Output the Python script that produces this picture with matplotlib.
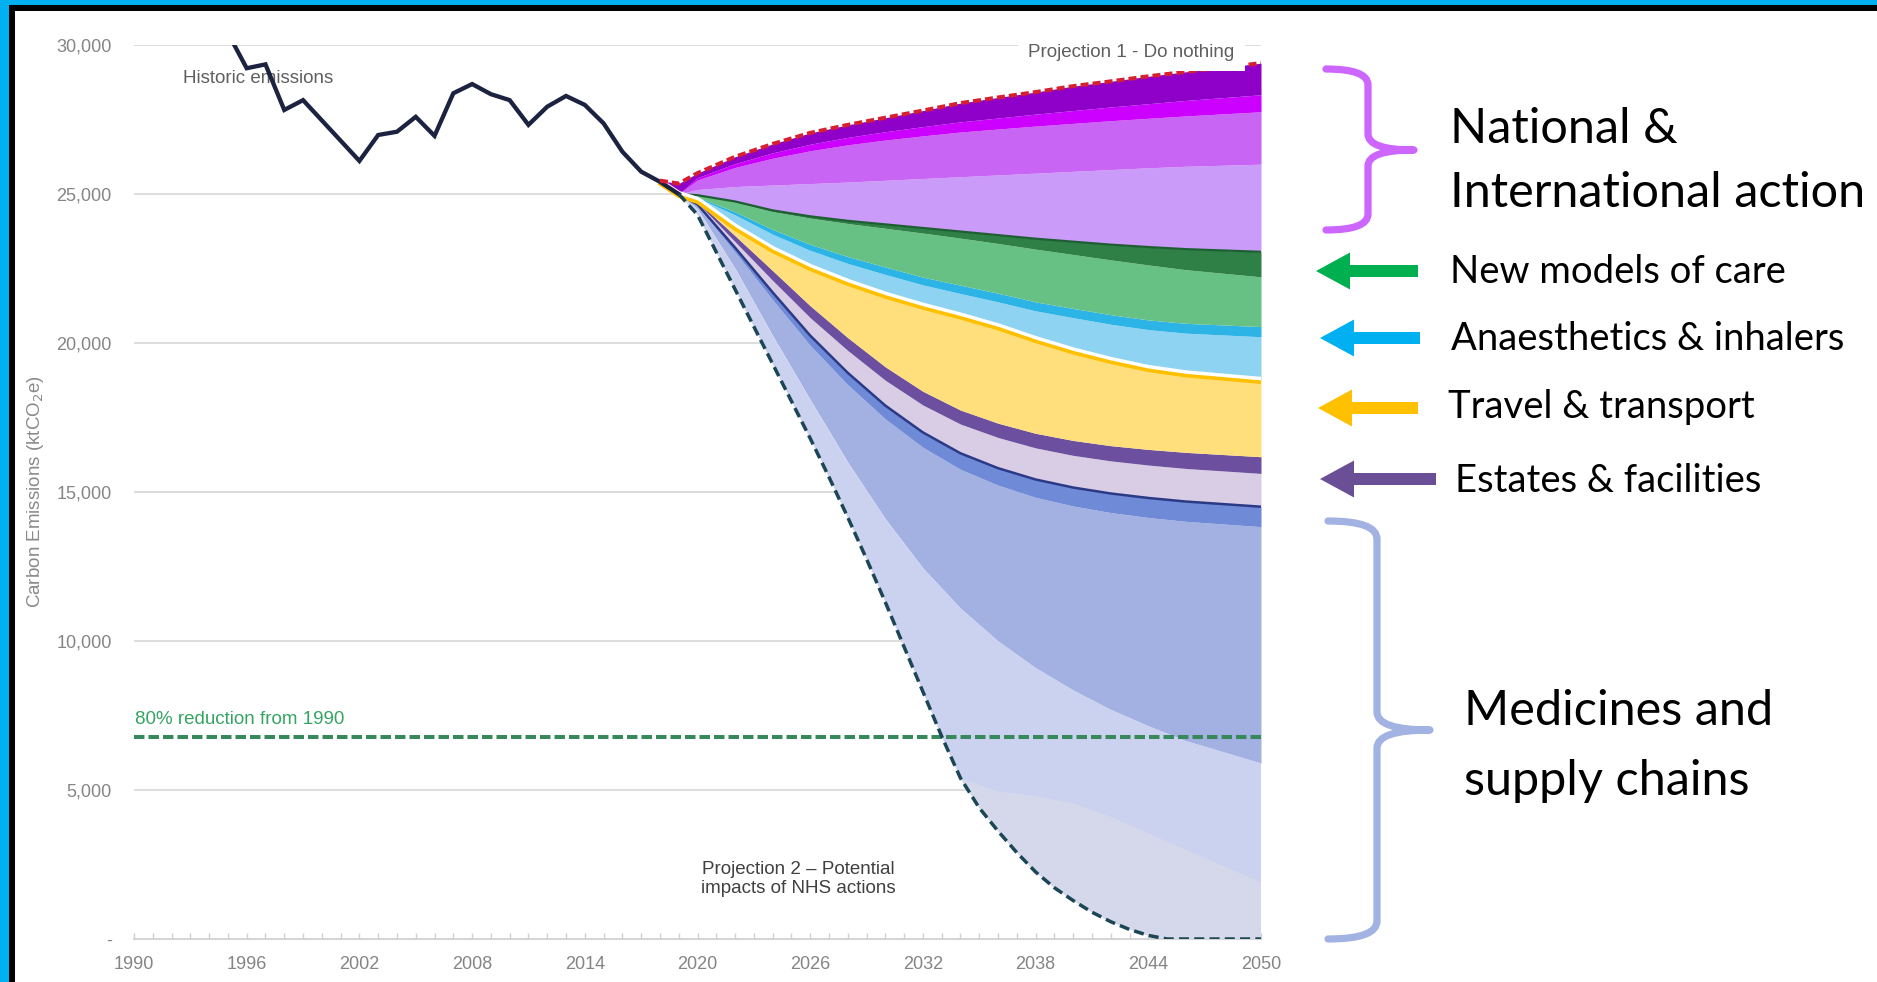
import matplotlib
matplotlib.use("Agg")
import matplotlib.pyplot as plt
from matplotlib.path import Path
from matplotlib.patches import PathPatch, FancyArrow, Rectangle
from matplotlib.ticker import MultipleLocator
import matplotlib.transforms as mtransforms

plt.rcParams['font.family'] = ['Liberation Sans', 'DejaVu Sans']

# ---------------- data ----------------
hist_years = list(range(1990, 2020))
hist_values = [33850, 33200, 32500, 31800, 31100, 30400, 29220, 29350, 27820, 28150,
               27470, 26790, 26110, 26980, 27090, 27590, 26950, 28380, 28690, 28350,
               28150, 27320, 27930, 28290, 27990, 27370, 26420, 25750, 25410, 25000]

proj_years = [2018, 2019, 2020, 2022, 2024, 2026, 2028, 2030, 2032, 2034, 2036, 2038, 2040, 2042, 2044, 2046, 2050]

# Projection 1 - do nothing (top of stack)
do_nothing      = [25450, 25350, 25700, 26250, 26680, 27050, 27320, 27560, 27800, 28050, 28240, 28420, 28620, 28780, 28950, 29100, 29390]
# cumulative level of each band's lower edge (top to bottom)
lvl_natintl_1   = [25413, 25000, 25550, 26020, 26380, 26670, 26900, 27090, 27260, 27420, 27550, 27680, 27800, 27920, 28030, 28140, 28330]
lvl_natintl_2   = [25413, 25000, 25470, 25890, 26200, 26450, 26650, 26810, 26950, 27080, 27180, 27280, 27370, 27460, 27540, 27620, 27760]
lvl_natintl_3   = [25413, 25000, 25150, 25250, 25300, 25350, 25400, 25460, 25520, 25580, 25640, 25700, 25760, 25820, 25880, 25930, 26000]
lvl_natintl_4   = [25413, 25000, 24960, 24750, 24450, 24250, 24100, 23980, 23860, 23740, 23620, 23500, 23400, 23300, 23220, 23150, 23060]
lvl_care_1      = [25413, 25000, 24955, 24730, 24410, 24190, 24010, 23850, 23690, 23520, 23340, 23150, 22970, 22790, 22620, 22460, 22220]
lvl_care_2      = [25413, 25000, 24900, 24400, 23810, 23310, 22900, 22550, 22210, 21940, 21670, 21380, 21160, 20950, 20775, 20660, 20550]
lvl_anaesth_1   = [25413, 25000, 24870, 24300, 23650, 23110, 22670, 22300, 21950, 21660, 21380, 21080, 20850, 20630, 20450, 20330, 20210]
lvl_anaesth_2   = [25413, 25000, 24800, 23900, 23150, 22550, 22050, 21620, 21250, 20920, 20560, 20130, 19750, 19430, 19160, 18980, 18760]
lvl_travel      = [25413, 25000, 24750, 23600, 22430, 21250, 20180, 19200, 18380, 17750, 17310, 16970, 16730, 16555, 16430, 16330, 16184]
lvl_estates_1   = [25413, 25000, 24710, 23400, 22100, 20850, 19750, 18750, 17920, 17280, 16830, 16480, 16230, 16045, 15905, 15790, 15624]
lvl_estates_2   = [25413, 25000, 24650, 23200, 21700, 20250, 19000, 17900, 17000, 16300, 15800, 15420, 15150, 14950, 14800, 14680, 14507]
lvl_supply_1    = [25413, 25000, 24600, 23050, 21450, 19920, 18600, 17450, 16500, 15760, 15230, 14820, 14530, 14310, 14145, 14015, 13837]
lvl_supply_2    = [25413, 25000, 24500, 22500, 20250, 18100, 16000, 14100, 12450, 11100, 10000, 9100, 8350, 7700, 7150, 6650, 5900]

# lowest wedge, only present once projection 2 flattens out
pale_years      = [2034, 2036, 2038, 2040, 2042, 2044, 2046, 2050]
lvl_supply_3    = [5400, 4950, 4800, 4550, 4100, 3550, 3000, 1900]

# Projection 2 - potential impacts of NHS actions (bottom of stack)
nhs_years   = list(range(2019, 2051))
nhs_actions = [25000, 24300, 23050, 21800, 20550, 19300, 18050, 16800, 15500, 14150,
               12750, 11300, 9800, 8300, 6800, 5400, 4400, 3620, 2900, 2250,
               1720, 1290, 900, 580, 320, 120, 0, 0, 0, 0, 0, 0]

y_ticks = [0, 5000, 10000, 15000, 20000, 25000, 30000]
y_tick_labels = ['-', '5,000', '10,000', '15,000', '20,000', '25,000', '30,000']
x_ticks = [1990, 1996, 2002, 2008, 2014, 2020, 2026, 2032, 2038, 2044, 2050]
x_tick_labels = [str(v) for v in x_ticks]

side_labels = ['New models of care', 'Anaesthetics & inhalers', 'Travel & transport', 'Estates & facilities']
side_colors = ['#00B050', '#00B0F0', '#FFC000', '#6A4F96']

# ---------------- figure ----------------
W, H = 1877, 982
fig = plt.figure(figsize=(W / 100, H / 100), dpi=100)
fig.patch.set_facecolor('white')

x0px, x1px, y0px, y1px = 134, 1261, 939, 45
ax = fig.add_axes([x0px / W, 1 - y0px / H, (x1px - x0px) / W, (y0px - y1px) / H])
ax.set_xlim(1990, 2050)
ax.set_ylim(0, 30000)

# bands on the common projection grid, bottom to top
levels = [lvl_supply_2, lvl_supply_1, lvl_estates_2, lvl_estates_1,
          lvl_travel, lvl_anaesth_2, lvl_anaesth_1, lvl_care_2, lvl_care_1, lvl_natintl_4,
          lvl_natintl_3, lvl_natintl_2, lvl_natintl_1, do_nothing]
band_colors = ['#A2B1E1', '#6F8AD6', '#D9CDE5', '#6C4F9E',
               '#FFDE7C', '#8ED3F1', '#2CB4E7', '#67C184', '#2F8047',
               '#CA9BF9', '#C965F5', '#CC00FF', '#8F00C8']
for lo, hi, c in zip(levels[:-1], levels[1:], band_colors):
    ax.fill_between(proj_years, lo, hi, color=c, lw=0, zorder=2)

# light periwinkle wedge: between supply_2 and projection 2
ax.fill(proj_years[1:] + nhs_years[::-1], lvl_supply_2[1:] + nhs_actions[::-1],
        color='#CBD2F0', lw=0, zorder=2)
# pale wedge: between supply_3 and projection 2 after 2034
tail_years = [y for y in nhs_years if y >= pale_years[0]]
tail_vals = [v for y, v in zip(nhs_years, nhs_actions) if y >= pale_years[0]]
ax.fill(pale_years + tail_years[::-1], lvl_supply_3 + tail_vals[::-1],
        color='#D4D8EA', lw=0, zorder=2.1)

# separator lines inside the stack
ax.plot(proj_years, lvl_estates_2, color='#2B3A86', lw=1.8, zorder=3)
ax.plot(proj_years, lvl_natintl_4, color='#1E5E33', lw=1.6, zorder=3)
ax.plot(proj_years, lvl_anaesth_2, color='white', lw=4.5, zorder=3)
off = mtransforms.offset_copy(ax.transData, fig=fig, x=0, y=-1.6, units='points')
ax.plot(proj_years, lvl_anaesth_2, color='#FFC000', lw=2.6, zorder=3, transform=off)

# gridlines
for v in y_ticks[1:]:
    ax.axhline(v, color='#DADADA', lw=1.3, zorder=0)

# 80% reduction line
target = hist_values[0] * 0.2
ax.axhline(target, color='#37885A', lw=2.9, dashes=(2.6, 1.0), zorder=4)
ax.text(1990.05, target + 430, '80% reduction from 1990', color='#35A462', fontsize=13.5,
        ha='left', va='baseline', zorder=5)

# historic line
ax.plot(hist_years, hist_values, color='#1C2340', lw=3.1, zorder=6, solid_joinstyle='miter')
ax.text(1992.6, 28725, 'Historic emissions', color='#5F5F5F', fontsize=13.5, ha='left',
        va='baseline', zorder=4)

# projections
ax.plot(proj_years, do_nothing, color='#D42030', lw=2.9, dashes=(2.0, 1.0), zorder=6)
ax.plot(nhs_years, nhs_actions, color='#1B4656', lw=2.5, dashes=(2.9, 1.5), zorder=6)

ax.text(2048.6, 29765, 'Projection 1 - Do nothing', color='#5F5F5F', fontsize=13.5,
        ha='right', va='center', zorder=7,
        bbox=dict(boxstyle='square,pad=0.55', fc='white', ec='none'))
ax.text(2025.36, 2010, 'Projection 2 \u2013 Potential\nimpacts of NHS actions', color='#404040',
        fontsize=13.5, ha='center', va='center', multialignment='center', linespacing=1.15, zorder=7)

# axes styling
for s in ['top', 'right', 'left']:
    ax.spines[s].set_visible(False)
ax.spines['bottom'].set_color('#D6D6D6')
ax.spines['bottom'].set_linewidth(1.5)
ax.spines['bottom'].set_zorder(1)
ax.set_yticks(y_ticks)
ax.set_yticklabels(y_tick_labels)
ax.set_xticks(x_ticks)
ax.set_xticklabels(x_tick_labels)
ax.xaxis.set_minor_locator(MultipleLocator(1))
ax.tick_params(axis='y', length=0, pad=16, labelsize=13, labelcolor='#858585')
ax.tick_params(axis='x', which='both', direction='in', length=4, width=1, color='#D0D0D0',
               pad=12, labelsize=13, labelcolor='#858585')
ax.set_ylabel('Carbon Emissions (ktCO$_2$e)', fontsize=13.5, color='#8A8A8A', labelpad=0)
ax.yaxis.set_label_coords((46 - x0px) / (x1px - x0px), 0.5)
ax.patch.set_alpha(0)

# ---------------- overlay in pixel coordinates ----------------
ov = fig.add_axes([0, 0, 1, 1], zorder=10)
ov.set_xlim(0, W)
ov.set_ylim(H, 0)
ov.axis('off')
ov.patch.set_alpha(0)

# frame (top and left)
ov.add_patch(Rectangle((0, 0), W, 5, color='#00B0F0', lw=0))
ov.add_patch(Rectangle((0, 0), 9, H, color='#00B0F0', lw=0))
ov.add_patch(Rectangle((9, 5), W - 9, 6, color='black', lw=0))
ov.add_patch(Rectangle((9, 5), 6, H - 5, color='black', lw=0))


def brace(xa, xv, xt, ytop, ymid, ybot, r, color):
    verts = [(xa, ytop), (xv, ytop), (xv, ytop + r),
             (xv, ymid - r), (xv, ymid), (xt, ymid),
             (xv, ymid), (xv, ymid + r),
             (xv, ybot - r), (xv, ybot), (xa, ybot)]
    codes = [Path.MOVETO, Path.CURVE3, Path.CURVE3,
             Path.LINETO, Path.CURVE3, Path.CURVE3,
             Path.CURVE3, Path.CURVE3,
             Path.LINETO, Path.CURVE3, Path.CURVE3]
    ov.add_patch(PathPatch(Path(verts, codes), fc='none', ec=color, lw=5.2,
                           capstyle='round', joinstyle='round'))


brace(1326, 1368, 1414, 69, 150, 230, 16, '#CC66FF')
brace(1328, 1377, 1430, 521, 730, 939, 18, '#A2B2E2')

arrow_y = [271, 338, 408, 479]
arrow_tail = [1418, 1420, 1418, 1436]
arrow_tip = [1316, 1320, 1318, 1320]
text_base = [283, 350, 418, 492]
text_x = [1450, 1451, 1448, 1455]
for lab, c, ya, xt, xp, yb, xx in zip(side_labels, side_colors, arrow_y, arrow_tail,
                                        arrow_tip, text_base, text_x):
    ov.add_patch(FancyArrow(xt, ya, xp - xt, 0, width=12, head_width=37, head_length=34,
                            length_includes_head=True, color=c, lw=0))
    ov.text(xx, yb, lab, fontsize=27.5, family=['Lato', 'DejaVu Sans'], fontweight='normal',
            color='black', ha='left', va='baseline')

for txt, xx, yb in [('National &', 1450, 143), ('International action', 1450, 207),
                    ('Medicines and', 1464, 725), ('supply chains', 1464, 795)]:
    ov.text(xx, yb, txt, fontsize=35, family=['Lato', 'DejaVu Sans'],
            color='black', ha='left', va='baseline')

fig.savefig('out.png', dpi=100)
